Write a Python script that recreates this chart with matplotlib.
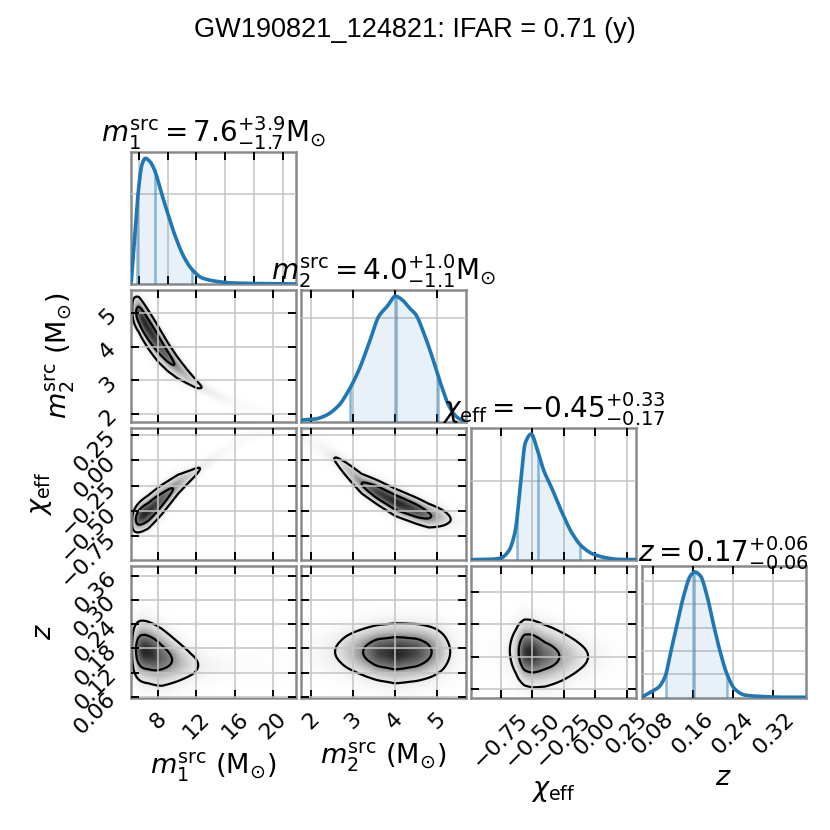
import numpy as np
import matplotlib
matplotlib.use("Agg")
import matplotlib.pyplot as plt
from matplotlib.colors import PowerNorm

plt.rcParams["font.family"] = ["DejaVu Sans"]
plt.rcParams["mathtext.fontset"] = "dejavusans"

# ---------------- values ----------------
params = ["m1", "m2", "chi", "z"]
axis_labels = [r"$m_1^{\rm src}$ (M$_{\odot}$)", r"$m_2^{\rm src}$ (M$_{\odot}$)",
               r"$\chi_{\rm eff}$", r"$z$"]
diag_titles = [r"$m_1^{\rm src} = 7.6^{+3.9}_{-1.7}\mathrm{M}_{\odot}$",
               r"$m_2^{\rm src} = 4.0^{+1.0}_{-1.1}\mathrm{M}_{\odot}$",
               r"$\chi_{\rm eff} = -0.45^{+0.33}_{-0.17}$",
               r"$z = 0.17^{+0.06}_{-0.06}$"]
suptitle = "GW190821_124821: IFAR = 0.71 (y)"

limits = {"m1": (5.19, 22.3), "m2": (1.76, 5.68), "chi": (-0.986, 0.322), "z": (0.0576, 0.385)}
ticks = {"m1": [8, 12, 16, 20], "m2": [2, 3, 4, 5],
         "chi": [-0.75, -0.50, -0.25, 0.00, 0.25], "z": [0.06, 0.12, 0.18, 0.24, 0.30, 0.36]}
diag_xticks = {"m1": [6, 9, 12, 15, 18, 21], "m2": [2, 3, 4, 5],
               "chi": [-0.75, -0.50, -0.25, 0.00, 0.25], "z": [0.08, 0.16, 0.24, 0.32]}
chi_z_yticks = [0.08, 0.16, 0.24, 0.32]

# 1D marginals: sample positions and heights relative to the peak
m1_x = [5.22, 5.64, 5.98, 6.33, 6.68, 7.2, 7.72, 8.24, 8.94, 9.8, 10.67, 11.54, 12.58, 13.97, 15.7, 18.5, 22.3]
m1_h = [0.02, 0.44, 0.76, 0.95, 1.0, 0.97, 0.89, 0.755, 0.58, 0.38, 0.22, 0.117, 0.05, 0.024, 0.01, 0.005, 0.002]
m2_x = [1.76, 2.09, 2.33, 2.65, 2.89, 3.13, 3.37, 3.61, 3.81, 4.01, 4.17, 4.33, 4.49, 4.69, 4.89, 5.09, 5.28, 5.48, 5.68]
m2_h = [0.016, 0.024, 0.05, 0.13, 0.25, 0.41, 0.62, 0.84, 0.92, 1.0, 0.97, 0.91, 0.855, 0.70, 0.51, 0.30, 0.13, 0.037, 0.005]
chi_x = [-0.986, -0.849, -0.756, -0.69, -0.637, -0.597, -0.557, -0.51, -0.465, -0.412, -0.346, -0.266, -0.187, -0.107, -0.015, 0.078, 0.183, 0.322]
chi_h = [0.003, 0.005, 0.014, 0.07, 0.23, 0.58, 0.93, 1.0, 0.89, 0.716, 0.57, 0.38, 0.216, 0.108, 0.046, 0.019, 0.005, 0.003]
z_x = [0.0576, 0.0755, 0.092, 0.105, 0.115, 0.1285, 0.1415, 0.155, 0.1635, 0.1747, 0.188, 0.2011, 0.2144, 0.2276, 0.244, 0.264, 0.297, 0.343, 0.385]
z_h = [0.005, 0.046, 0.086, 0.175, 0.35, 0.59, 0.81, 0.97, 1.0, 0.97, 0.81, 0.58, 0.363, 0.19, 0.067, 0.022, 0.011, 0.005, 0.005]
marg_x = {"m1": m1_x, "m2": m2_x, "chi": chi_x, "z": z_x}
marg_h = {"m1": m1_h, "m2": m2_h, "chi": chi_h, "z": z_h}
peak_density = {"m1": 0.278, "m2": 0.603, "chi": 3.17, "z": 10.76}
density_ticks = {"m1": [0.2], "m2": [0.5], "chi": [2], "z": [2, 4, 6, 8, 10]}
# lower 5%, median, upper 95% lines
intervals = {"m1": [5.85, 7.65, 11.5], "m2": [2.92, 4.01, 5.03],
             "chi": [-0.623, -0.452, -0.121], "z": [0.107, 0.163, 0.228]}

# 2D panels: ridge (conditional centre) and conditional width of y given x
m1_m2_x = [5.19, 6.0, 7.0, 8.0, 9.0, 10.0, 11.0, 12.0, 14.0, 17.0, 22.3]
m1_m2_mu = [5.15, 4.95, 4.5, 4.08, 3.7, 3.38, 3.12, 2.88, 2.55, 2.2, 1.8]
m1_m2_sd = [0.26, 0.27, 0.28, 0.27, 0.23, 0.19, 0.15, 0.12, 0.1, 0.1, 0.1]

m1_chi_x = [5.19, 5.43, 6.99, 8.38, 10.1, 11.68, 14.0, 17.0, 22.3]
m1_chi_mu = [-0.62, -0.6, -0.51, -0.39, -0.235, -0.13, 0.03, 0.2, 0.4]
m1_chi_sd = [0.068, 0.07, 0.08, 0.076, 0.058, 0.04, 0.036, 0.036, 0.036]

m2_chi_x = [1.76, 2.2, 2.6, 3.2, 4.0, 4.8, 5.28, 5.68]
m2_chi_mu = [0.22, 0.12, 0.0, -0.23, -0.415, -0.547, -0.58, -0.62]
m2_chi_sd = [0.05, 0.05, 0.052, 0.056, 0.066, 0.066, 0.056, 0.05]

m1_z_x = [5.19, 6.0, 7.0, 8.4, 10.0, 11.5, 14.0, 22.3]
m1_z_mu = [0.178, 0.175, 0.17, 0.158, 0.148, 0.14, 0.135, 0.13]
m1_z_sd = [0.036, 0.036, 0.036, 0.036, 0.03, 0.025, 0.02, 0.02]

m2_z_x = [1.76, 3.0, 4.0, 5.0, 5.68]
m2_z_mu = [0.172, 0.172, 0.168, 0.172, 0.172]
m2_z_sd = [0.03, 0.032, 0.036, 0.035, 0.032]

chi_z_x = [-0.986, -0.7, -0.56, -0.4, -0.27, -0.14, 0.0, 0.322]
chi_z_mu = [0.175, 0.175, 0.17, 0.162, 0.16, 0.16, 0.16, 0.16]
chi_z_sd = [0.036, 0.036, 0.038, 0.038, 0.034, 0.03, 0.028, 0.025]

pairs = {("m1", "m2"): (m1_m2_x, m1_m2_mu, m1_m2_sd),
         ("m1", "chi"): (m1_chi_x, m1_chi_mu, m1_chi_sd),
         ("m2", "chi"): (m2_chi_x, m2_chi_mu, m2_chi_sd),
         ("m1", "z"): (m1_z_x, m1_z_mu, m1_z_sd),
         ("m2", "z"): (m2_z_x, m2_z_mu, m2_z_sd),
         ("chi", "z"): (chi_z_x, chi_z_mu, chi_z_sd)}

BLUE = "#1f77b4"
# right edge of each row's y label, in axes fraction
ylabel_x = {"m2": -0.33, "chi": -0.47, "z": -0.45}


def pchip(x, y, xn):
    x = np.asarray(x, float); y = np.asarray(y, float); xn = np.asarray(xn, float)
    h = np.diff(x); d = np.diff(y) / h
    m = np.zeros_like(y)
    for k in range(1, len(x) - 1):
        if d[k - 1] * d[k] > 0:
            w1 = 2 * h[k] + h[k - 1]; w2 = h[k] + 2 * h[k - 1]
            m[k] = (w1 + w2) / (w1 / d[k - 1] + w2 / d[k])
    m[0] = d[0]; m[-1] = d[-1]
    xc = np.clip(xn, x[0], x[-1])
    i = np.clip(np.searchsorted(x, xc) - 1, 0, len(x) - 2)
    t = (xc - x[i]) / h[i]
    h00 = 2 * t**3 - 3 * t**2 + 1; h10 = t**3 - 2 * t**2 + t
    h01 = -2 * t**3 + 3 * t**2; h11 = t**3 - t**2
    return h00 * y[i] + h10 * h[i] * m[i] + h01 * y[i + 1] + h11 * h[i] * m[i + 1]


def marginal(p, xs):
    return np.clip(pchip(marg_x[p], marg_h[p], xs), 0, None) * peak_density[p]


fig = plt.figure(figsize=(8.3, 8.3), dpi=100)
W = H = 830.0
pw, gw = 164.5, 5.67
ph, gh = 132.2, 5.7
x_left, y_top = 131.0, 152.0

for i in range(4):
    for j in range(i + 1):
        x0 = x_left + j * (pw + gw)
        yt = y_top + i * (ph + gh)
        ax = fig.add_axes([x0 / W, 1 - (yt + ph) / H, pw / W, ph / H])
        px, py = params[j], params[i]
        for s in ax.spines.values():
            s.set_color("#8a8a8a"); s.set_linewidth(1.8)
        ax.tick_params(direction="in", length=5.5, width=1.4, color="black",
                       top=True, right=True, labelsize=16, labelrotation=45, pad=8)
        if i == j:
            xs = np.linspace(*limits[px], 500)
            ys = marginal(px, xs)
            ax.plot(xs, ys, color=BLUE, lw=2.6, zorder=4)
            lo, med, hi = intervals[px]
            sel = (xs >= lo) & (xs <= hi)
            ax.fill_between(xs[sel], 0, ys[sel], color=BLUE, alpha=0.1, lw=0, zorder=3)
            for v in (lo, med, hi):
                ax.plot([v, v], [0, marginal(px, [v])[0]], color=BLUE, alpha=0.5, lw=1.8, zorder=3)
            ax.set_xlim(*limits[px])
            ax.set_ylim(0, 1.05 * peak_density[px])
            ax.set_xticks(diag_xticks[px])
            ax.set_yticks(density_ticks[px])
            ax.tick_params(axis="y", left=False, right=False, labelleft=False)
            ax.set_title(diag_titles[j], fontsize=20, pad=3)
        else:
            gx = np.linspace(*limits[px], 240)
            gy = np.linspace(*limits[py], 240)
            rx, rmu, rsd = pairs[(px, py)]
            pxv = marginal(px, gx)
            mu = np.interp(gx, rx, rmu)
            sd = np.interp(gx, rx, rsd)
            D = pxv[None, :] / sd[None, :] * np.exp(-0.5 * ((gy[:, None] - mu[None, :]) / sd[None, :])**2)
            ax.imshow(D, origin="lower", extent=[*limits[px], *limits[py]], aspect="auto",
                      cmap="Greys", norm=PowerNorm(0.75, vmin=0, vmax=1.2 * D.max()),
                      interpolation="bilinear", zorder=0)
            flat = np.sort(D.ravel())[::-1]
            c = np.cumsum(flat); c /= c[-1]
            levels = [flat[np.searchsorted(c, 0.9)], flat[np.searchsorted(c, 0.5)]]
            ax.contour(gx, gy, D, levels=levels, colors="black", linewidths=1.6, zorder=2)
            ax.set_xlim(*limits[px]); ax.set_ylim(*limits[py])
            ax.set_xticks(ticks[px])
            if py == "z" and px == "chi":
                ax.set_yticks(chi_z_yticks)
            else:
                ax.set_yticks(ticks[py])
            if j != 0:
                ax.tick_params(axis="y", labelleft=False)
            else:
                ax.set_ylabel(axis_labels[i], fontsize=19.5)
                ax.yaxis.set_label_coords(ylabel_x[py], 0.5)
        if i != 3:
            ax.tick_params(axis="x", labelbottom=False)
        else:
            ax.set_xlabel(axis_labels[j], fontsize=19.5, labelpad=5)
        ax.set_axisbelow(False)
        ax.grid(True, color="#c4c4c4", lw=1.1, zorder=2.5)

fig.text(0.5, 1 - 30 / H, suptitle, ha="center", va="center", fontsize=19.5,
         family=["Liberation Sans", "DejaVu Sans"])
fig.savefig("out.png", dpi=100)
